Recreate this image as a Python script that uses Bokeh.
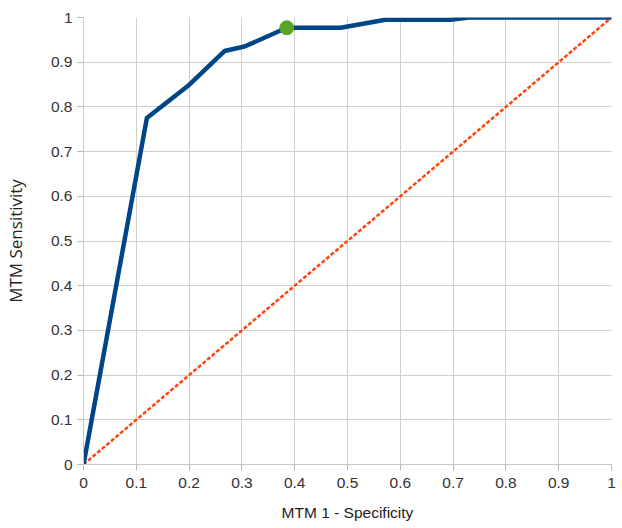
from bokeh.plotting import figure
from bokeh.models import FixedTicker, NumeralTickFormatter, Range1d
from bokeh.embed import file_html
from bokeh.resources import INLINE

# ROC curve (MTM)
fpr = [0.0, 0.12, 0.20, 0.267, 0.305, 0.385, 0.487, 0.572, 0.695, 0.73, 1.0]
tpr = [0.0, 0.775, 0.849, 0.925, 0.935, 0.977, 0.977, 0.995, 0.995, 1.0, 1.0]
# reference diagonal
diag_x = [0.0, 1.0]
diag_y = [0.0, 1.0]
# optimal cut-off point
opt_x = [0.385]
opt_y = [0.977]
ticks = [0.0, 0.1, 0.2, 0.3, 0.4, 0.5, 0.6, 0.7, 0.8, 0.9, 1.0]

p = figure(width=622, height=528, output_backend="svg", toolbar_location=None,
           x_range=Range1d(0, 1), y_range=Range1d(0, 1),
           min_border_left=83, min_border_right=11, min_border_top=17, min_border_bottom=64)
p.outline_line_color = None
p.background_fill_color = "white"
p.border_fill_color = "white"

for ax in (p.xaxis[0], p.yaxis[0]):
    ax.ticker = FixedTicker(ticks=ticks)
    ax.formatter = NumeralTickFormatter(format="0.[0]")
    ax.minor_tick_line_color = None
    ax.major_tick_in = 0
    ax.major_tick_out = 6
    ax.major_tick_line_color = "#b8b8b8"
    ax.axis_line_color = "#c8c8c8"
    ax.major_label_text_font = "Liberation Sans"
    ax.major_label_text_font_size = "15.5px"
    ax.major_label_text_color = "#333333"
    ax.axis_label_text_font_style = "normal"
    ax.axis_label_text_color = "#222222"

p.xaxis.axis_label = "MTM 1 - Specificity"
p.xaxis.axis_label_text_font = "Liberation Sans"
p.xaxis.axis_label_text_font_size = "15.5px"
p.yaxis.axis_label = "MTM Sensitivity"
p.yaxis.axis_label_text_font = "Open Sans"
p.yaxis.axis_label_text_font_size = "17px"
p.xaxis.major_label_standoff = 7
p.yaxis.major_label_standoff = 5
p.xaxis.axis_label_standoff = 13
p.yaxis.axis_label_standoff = 21

p.grid.grid_line_color = "#cfcfcf"
p.grid.grid_line_width = 1

p.line(diag_x, diag_y, line_color="#ff420e", line_width=2.5, line_dash="4 2")
p.line(fpr, tpr, line_color="#004586", line_width=4.5, line_join="round")
p.scatter(opt_x, opt_y, size=14, fill_color="#5ca524", line_color="#5ca524")

open("out.html", "w").write(file_html(p, INLINE))
